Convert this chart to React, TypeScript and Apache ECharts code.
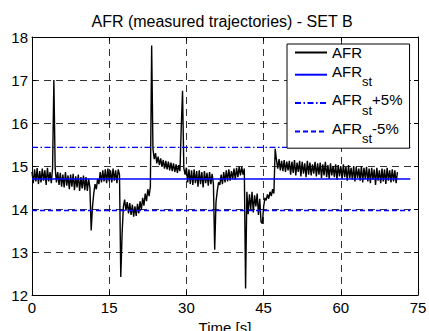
import React, { useEffect, useRef } from 'react';
import * as echarts from 'echarts';

// sample period of the measured AFR trace [s]
const sampleStep = 0.25;

// measured AFR trajectory (one value per sample, t = 0 … 71 s)
const afrValues: number[] = [
  // t 0 – 4.75
  14.86, 14.60, 14.92, 14.64, 14.95, 14.58, 14.88, 14.62, 14.94, 14.66, 14.90, 14.56, 14.96, 14.64, 14.86, 14.60, 14.96, 17.00, 14.95, 14.62,
  // t 5 – 9.75
  14.86, 14.56, 14.84, 14.52, 14.80, 14.50, 14.86, 14.54, 14.78, 14.46, 14.80, 14.52, 14.82, 14.44, 14.76, 14.50, 14.80, 14.42, 14.74, 14.48,
  // t 10 – 14.75
  14.78, 14.44, 14.74, 14.42, 14.70, 14.50, 13.50, 14.05, 14.36, 14.58, 14.46, 14.70, 14.58, 14.86, 14.62, 14.90, 14.64, 14.92, 14.60, 14.94,
  // t 15 – 19.75
  14.64, 14.90, 14.62, 14.94, 14.66, 14.90, 14.60, 14.92, 14.80, 12.42, 13.40, 14.05, 14.22, 13.96, 14.16, 13.90, 14.14, 13.86, 14.10, 13.82,
  // t 20 – 24.75
  14.06, 13.84, 14.12, 13.90, 14.18, 13.98, 14.26, 14.08, 14.36, 14.18, 14.46, 14.30, 14.52, 17.80, 15.40, 15.16, 15.30, 15.06, 15.22, 15.02,
  // t 25 – 29.75
  15.18, 14.98, 15.14, 14.94, 15.12, 14.92, 15.10, 14.90, 15.08, 14.88, 15.06, 14.86, 15.04, 14.84, 15.02, 14.88, 15.90, 16.75, 14.95, 14.80,
  // t 30 – 34.75
  14.96, 14.62, 14.92, 14.58, 14.90, 14.56, 14.92, 14.60, 14.88, 14.52, 14.90, 14.58, 14.86, 14.50, 14.88, 14.60, 14.84, 14.54, 14.86, 14.58,
  // t 35 – 39.75
  14.82, 14.58, 13.05, 14.16, 14.42, 14.62, 14.56, 14.80, 14.58, 14.86, 14.62, 14.90, 14.64, 14.92, 14.66, 14.88, 14.70, 14.94, 14.68, 14.96,
  // t 40 – 44.75
  14.74, 14.98, 14.78, 14.98, 14.80, 14.94, 12.15, 14.40, 13.88, 14.34, 14.00, 14.40, 13.92, 14.32, 14.06, 14.36, 13.86, 14.24, 13.70, 13.66,
  // t 45 – 49.75
  14.04, 14.26, 14.20, 14.34, 14.24, 14.40, 14.30, 14.46, 14.36, 15.40, 15.14, 14.94, 15.16, 14.90, 15.12, 14.88, 15.14, 14.86, 15.10, 14.90,
  // t 50 – 54.75
  15.12, 14.80, 15.10, 14.84, 15.14, 14.78, 15.08, 14.86, 15.12, 14.76, 15.10, 14.82, 15.06, 14.74, 15.12, 14.80, 15.08, 14.78, 15.04, 14.82,
  // t 55 – 59.75
  15.10, 14.76, 15.06, 14.80, 15.08, 14.72, 15.04, 14.78, 15.10, 14.74, 15.02, 14.70, 15.06, 14.78, 15.00, 14.74, 15.04, 14.68, 15.02, 14.76,
  // t 60 – 64.75
  15.00, 14.70, 15.04, 14.74, 14.98, 14.66, 15.02, 14.72, 14.96, 14.68, 15.00, 14.64, 14.98, 14.72, 14.94, 14.66, 15.00, 14.62, 14.96, 14.70,
  // t 65 – 69.75
  14.98, 14.64, 14.94, 14.60, 14.96, 14.68, 14.92, 14.56, 14.96, 14.66, 14.90, 14.60, 14.94, 14.64, 14.92, 14.58, 14.96, 14.66, 14.90, 14.62,
  // t 70 – 71
  14.92, 14.64, 14.90, 14.60, 14.86,
];

// stoichiometric AFR and ±5 % band
const afrSt = 14.7;
const afrStPlus = 15.435;
const afrStMinus = 13.965;
const refLineTimes = [0, 73.5];

const seriesNames = ['AFR', 'AFR_st', 'AFR_st+5%', 'AFR_st-5%'];

const xMin = 0, xMax = 75, xStep = 15;
const yMin = 12, yMax = 18, yStep = 1;

const FONT = "'Liberation Sans', Arial, Helvetica, sans-serif";

export default function App() {
  const ref = useRef<HTMLDivElement>(null);

  useEffect(() => {
    if (!ref.current) return;
    const chart = echarts.init(ref.current, undefined, { renderer: 'svg' });

    const axisLine = { show: true, onZero: false, lineStyle: { color: '#000', width: 1 } };
    const axisTick = { show: true, inside: true, length: 4, lineStyle: { color: '#000', width: 1 } };
    const split = { show: true, lineStyle: { color: '#000', width: 0.8, type: [7, 5] as any } };

    const option: any = {
      animation: false,
      backgroundColor: '#fff',
      textStyle: { fontFamily: FONT },
      title: {
        text: 'AFR (measured trajectories) - SET B',
        left: 222,
        top: 13,
        textAlign: 'center',
        padding: 0,
        textStyle: { fontSize: 16, fontWeight: 'normal', color: '#000', fontFamily: FONT },
      },
      grid: { left: 32, right: 11, top: 37, bottom: 36, containLabel: false, outerBoundsMode: 'none' },
      legend: {
        data: seriesNames,
        orient: 'vertical',
        left: 287,
        top: 44,
        padding: [1, 7, 3, 7],
        itemGap: 1,
        itemWidth: 32,
        itemHeight: 14,
        selectedMode: false,
        backgroundColor: '#fff',
        borderColor: '#000',
        borderWidth: 1,
        borderRadius: 0,
        itemStyle: { opacity: 0 },
        formatter: (name: string) => {
          if (name === 'AFR') return '{a|AFR}';
          const suffix = name.slice(6);
          return '{m|AFR}{s|st}' + (suffix ? '{m|' + suffix + '}' : '');
        },
        textStyle: {
          color: '#000',
          fontFamily: FONT,
          fontSize: 15,
          rich: {
            a: { fontSize: 15, color: '#000', fontFamily: FONT, lineHeight: 21, verticalAlign: 'middle' },
            m: { fontSize: 15, color: '#000', fontFamily: FONT, lineHeight: 27, padding: [0, 0, 6.4, 0], verticalAlign: 'middle' },
            s: { fontSize: 13, color: '#000', fontFamily: FONT, lineHeight: 27, padding: [14.4, 0, 0, 0], verticalAlign: 'middle' },
          },
        },
      },
      xAxis: [
        {
          type: 'value', min: xMin, max: xMax, interval: xStep, position: 'bottom',
          name: 'Time [s]', nameLocation: 'middle', nameGap: 25,
          nameTextStyle: { fontSize: 15, color: '#000', fontFamily: FONT },
          axisLine, axisTick,
          axisLabel: { fontSize: 15, color: '#000', margin: 5, fontFamily: FONT },
          splitLine: split,
        },
        {
          type: 'value', min: xMin, max: xMax, interval: xStep, position: 'top',
          axisLine, axisTick, axisLabel: { show: false }, splitLine: { show: false },
        },
      ],
      yAxis: [
        {
          type: 'value', min: yMin, max: yMax, interval: yStep, position: 'left',
          axisLine, axisTick,
          axisLabel: { fontSize: 15, color: '#000', margin: 4, fontFamily: FONT },
          splitLine: split,
        },
        {
          type: 'value', min: yMin, max: yMax, interval: yStep, position: 'right',
          axisLine, axisTick, axisLabel: { show: false }, splitLine: { show: false },
        },
      ],
      series: [
        {
          name: seriesNames[0], type: 'line', xAxisIndex: 0, yAxisIndex: 0,
          data: afrValues.map((v, i) => [i * sampleStep, v]),
          symbol: 'none', showSymbol: false,
          lineStyle: { color: '#000', width: 1.4 }, itemStyle: { color: '#000' }, z: 2,
        },
        {
          name: seriesNames[1], type: 'line', xAxisIndex: 0, yAxisIndex: 0,
          data: refLineTimes.map((t) => [t, afrSt]),
          symbol: 'none', showSymbol: false,
          lineStyle: { color: '#0000ff', width: 1.5 }, itemStyle: { color: '#0000ff' }, z: 3,
        },
        {
          name: seriesNames[2], type: 'line', xAxisIndex: 0, yAxisIndex: 0,
          data: refLineTimes.map((t) => [t, afrStPlus]),
          symbol: 'none', showSymbol: false,
          lineStyle: { color: '#0000ff', width: 1.3, type: [6, 2.5, 1.5, 2.5] }, itemStyle: { color: '#0000ff' }, z: 3,
        },
        {
          name: seriesNames[3], type: 'line', xAxisIndex: 0, yAxisIndex: 0,
          data: refLineTimes.map((t) => [t, afrStMinus]),
          symbol: 'none', showSymbol: false,
          lineStyle: { color: '#0000ff', width: 1.5, type: [5, 3] }, itemStyle: { color: '#0000ff' }, z: 3,
        },
      ],
    };

    chart.setOption(option);
    return () => chart.dispose();
  }, []);

  return <div ref={ref} style={{ width: 429, height: 331, position: 'absolute', left: 0, top: 0, background: '#fff' }} />;
}
